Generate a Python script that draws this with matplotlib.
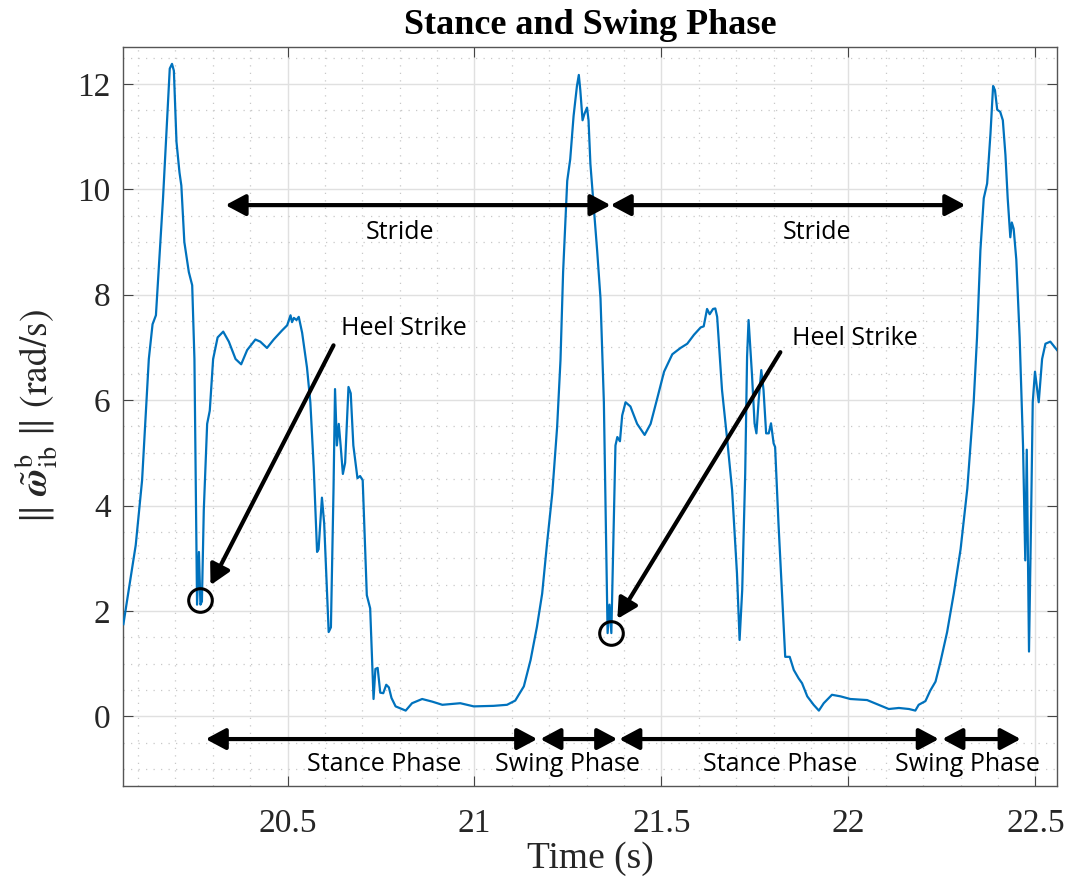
import numpy as np
import matplotlib
matplotlib.use("Agg")
import matplotlib.pyplot as plt
from matplotlib.ticker import MultipleLocator

# gyro norm samples
time_s = [
    20.061, 20.094, 20.111, 20.129, 20.139, 20.148, 20.155, 20.167, 20.178, 20.185,
    20.191, 20.196, 20.203, 20.211, 20.216, 20.224, 20.236, 20.245, 20.251, 20.258,
    20.263, 20.267, 20.271, 20.276, 20.285, 20.292, 20.301, 20.313, 20.328, 20.343,
    20.361, 20.376, 20.392, 20.414, 20.427, 20.445, 20.463, 20.485, 20.499, 20.508,
    20.512, 20.517, 20.524, 20.530, 20.539, 20.552, 20.561, 20.570, 20.579, 20.583,
    20.592, 20.598, 20.610, 20.616, 20.623, 20.627, 20.632, 20.637, 20.642, 20.648,
    20.654, 20.663, 20.669, 20.676, 20.687, 20.694, 20.701, 20.712, 20.721, 20.730,
    20.735, 20.741, 20.748, 20.756, 20.764, 20.771, 20.778, 20.789, 20.816, 20.833,
    20.860, 20.887, 20.914, 20.962, 20.998, 21.051, 21.087, 21.109, 21.132, 21.150,
    21.167, 21.181, 21.194, 21.208, 21.221, 21.230, 21.237, 21.248, 21.256, 21.265,
    21.274, 21.279, 21.283, 21.289, 21.294, 21.301, 21.305, 21.310, 21.319, 21.328,
    21.337, 21.346, 21.356, 21.361, 21.366, 21.377, 21.382, 21.389, 21.395, 21.404,
    21.417, 21.435, 21.455, 21.471, 21.489, 21.507, 21.529, 21.551, 21.569, 21.587,
    21.605, 21.613, 21.622, 21.629, 21.638, 21.644, 21.649, 21.662, 21.676, 21.689,
    21.702, 21.709, 21.716, 21.724, 21.729, 21.733, 21.742, 21.749, 21.754, 21.760,
    21.767, 21.773, 21.780, 21.787, 21.793, 21.800, 21.804, 21.813, 21.822, 21.831,
    21.843, 21.854, 21.867, 21.876, 21.890, 21.907, 21.921, 21.934, 21.956, 21.979,
    22.005, 22.050, 22.077, 22.108, 22.135, 22.162, 22.179, 22.188, 22.206, 22.219,
    22.233, 22.246, 22.264, 22.282, 22.300, 22.318, 22.335, 22.344, 22.353, 22.362,
    22.371, 22.380, 22.387, 22.392, 22.398, 22.406, 22.413, 22.420, 22.426, 22.433,
    22.437, 22.442, 22.449, 22.458, 22.467, 22.473, 22.477, 22.483, 22.488, 22.493,
    22.499, 22.509, 22.518, 22.527, 22.540, 22.558,
]
omega_norm = [
    1.75, 3.25, 4.48, 6.78, 7.44, 7.61, 8.43, 9.83, 11.31, 12.29,
    12.38, 12.25, 10.90, 10.32, 10.07, 9.00, 8.43, 8.18, 6.78, 2.12,
    3.12, 2.12, 2.18, 3.91, 5.55, 5.80, 6.78, 7.19, 7.30, 7.11,
    6.78, 6.68, 6.95, 7.15, 7.11, 6.99, 7.15, 7.32, 7.42, 7.61,
    7.48, 7.56, 7.52, 7.58, 7.28, 6.62, 5.96, 4.73, 3.12, 3.17,
    4.15, 3.66, 1.60, 1.69, 4.32, 6.21, 5.14, 5.55, 5.14, 4.60,
    4.81, 6.25, 6.13, 5.14, 4.52, 4.56, 4.48, 2.30, 2.05, 0.33,
    0.90, 0.92, 0.45, 0.44, 0.60, 0.55, 0.35, 0.19, 0.11, 0.25,
    0.33, 0.28, 0.22, 0.25, 0.19, 0.20, 0.22, 0.30, 0.57, 1.07,
    1.70, 2.33, 3.28, 4.23, 5.49, 6.76, 8.43, 10.16, 10.57, 11.39,
    11.96, 12.17, 11.88, 11.31, 11.43, 11.55, 11.31, 10.48, 9.66, 8.84,
    7.93, 5.96, 1.58, 2.12, 1.58, 5.14, 5.30, 5.22, 5.71, 5.96,
    5.88, 5.55, 5.34, 5.55, 6.04, 6.54, 6.87, 6.99, 7.07, 7.24,
    7.38, 7.40, 7.73, 7.63, 7.73, 7.74, 7.58, 6.19, 5.24, 4.29,
    2.71, 1.45, 2.40, 4.61, 6.82, 7.52, 6.50, 5.56, 5.37, 6.00,
    6.57, 6.19, 5.37, 5.37, 5.56, 5.18, 5.11, 3.66, 2.40, 1.13,
    1.13, 0.88, 0.72, 0.63, 0.38, 0.22, 0.11, 0.25, 0.41, 0.38,
    0.33, 0.31, 0.23, 0.14, 0.16, 0.14, 0.11, 0.22, 0.29, 0.49,
    0.66, 1.03, 1.60, 2.34, 3.17, 4.32, 5.96, 7.19, 8.84, 9.83,
    10.11, 11.06, 11.96, 11.88, 11.51, 11.47, 11.31, 10.65, 9.83, 9.09,
    9.37, 9.25, 8.67, 7.19, 5.14, 2.96, 5.06, 1.23, 3.49, 5.96,
    6.54, 5.96, 6.78, 7.07, 7.11, 6.95,
]

# annotations
stride_bounds = [20.334, 21.364, 22.313]
stride_y = 9.70
stride_labels = ["Stride", "Stride"]
stride_text_x = [20.802, 21.917]
stride_text_y = 9.19

heel_circle_t = [20.265, 21.364]
heel_circle_v = [2.21, 1.58]
heel_tail = [(20.623, 7.04), (21.818, 6.91)]
heel_tip = [(20.294, 2.49), (21.382, 1.85)]
heel_text_pos = [(20.810, 7.36), (22.016, 7.17)]

phase_bounds = [(20.281, 21.168), (21.176, 21.382), (21.387, 22.242), (22.251, 22.461)]
phase_labels = ["Stance Phase", "Swing Phase", "Stance Phase", "Swing Phase"]
phase_text_x = [20.759, 21.249, 21.818, 22.318]
phase_y = -0.43
phase_text_y = -0.92

serif = "Liberation Serif"
sans = "Open Sans"
plt.rcParams["mathtext.fontset"] = "stix"

fig = plt.figure(figsize=(10.66, 8.85), dpi=100)
ax = fig.add_axes([0.1154, 0.1119, 0.8762, 0.835])

ax.plot(time_s, omega_norm, color="#0072BD", lw=1.6, zorder=3)

ax.set_xlim(20.06, 22.558)
ax.set_ylim(-1.32, 12.7)
ax.xaxis.set_minor_locator(MultipleLocator(0.1))
ax.yaxis.set_minor_locator(MultipleLocator(0.5))
ax.set_xticks([20.5, 21, 21.5, 22, 22.5])
ax.set_xticklabels(["20.5", "21", "21.5", "22", "22.5"])
ax.set_yticks([0, 2, 4, 6, 8, 10, 12])

ax.grid(which="major", color="#e0e0e0", lw=1.0, ls="-")
ax.grid(which="minor", color="#c8c8c8", lw=0.9, ls=(0, (1, 5)))
ax.set_axisbelow(True)
ax.tick_params(which="major", direction="in", length=7, width=0.8, color="#444444",
               top=True, right=True, labelsize=24)
ax.tick_params(axis="x", pad=16)
ax.tick_params(axis="y", pad=9)
ax.tick_params(which="minor", length=0, top=True, right=True)
for lab in ax.get_xticklabels() + ax.get_yticklabels():
    lab.set_family(serif)
    lab.set_color("#262626")
for sp in ax.spines.values():
    sp.set_color("#555555")
    sp.set_linewidth(1.0)

ax.set_title("Stance and Swing Phase", family=serif, fontsize=26, fontweight="bold", pad=9)
ax.set_xlabel("Time (s)", family=serif, fontsize=27, color="#262626", labelpad=2)
ax.set_ylabel(r"$\Vert\ \tilde{\boldsymbol{\omega}}^{\mathrm{b}}_{\mathrm{ib}}\ \Vert$ (rad/s)",
              family="STIXGeneral", fontsize=27, color="#262626", labelpad=12)

arrow_kw = dict(color="k", lw=3, shrinkA=0, shrinkB=0, mutation_scale=20)

# stride arrows
for i in range(len(stride_labels)):
    ax.annotate("", xy=(stride_bounds[i + 1], stride_y), xytext=(stride_bounds[i], stride_y),
                arrowprops=dict(arrowstyle="<|-|>,head_length=0.6,head_width=0.32", **arrow_kw))
    ax.text(stride_text_x[i], stride_text_y, stride_labels[i], family=sans, fontsize=18,
            ha="center", va="center")

# heel strike
ax.plot(heel_circle_t, heel_circle_v, "o", mfc="none", mec="k", ms=17, mew=2.2, zorder=4)
for (tx, ty), (hx, hy), (lx, ly) in zip(heel_tail, heel_tip, heel_text_pos):
    ax.annotate("", xy=(hx, hy), xytext=(tx, ty),
                arrowprops=dict(arrowstyle="-|>,head_length=0.6,head_width=0.32", **arrow_kw))
    ax.text(lx, ly, "Heel Strike", family=sans, fontsize=18, ha="center", va="center")

# stance / swing phases
for (a, b), lab, xt in zip(phase_bounds, phase_labels, phase_text_x):
    ax.annotate("", xy=(b, phase_y), xytext=(a, phase_y),
                arrowprops=dict(arrowstyle="<|-|>,head_length=0.6,head_width=0.32", **arrow_kw))
    ax.text(xt, phase_text_y, lab, family=sans, fontsize=18, ha="center", va="center")

fig.savefig("out.png", dpi=100)
